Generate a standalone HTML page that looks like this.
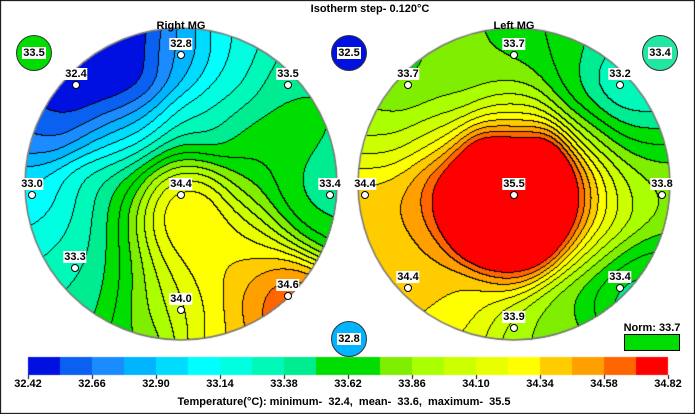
<!DOCTYPE html><html><head><meta charset="utf-8"><style>
body{margin:0;background:#fff}
#w{position:relative;width:695px;height:414px;overflow:hidden;font-family:"Liberation Sans",sans-serif;font-weight:bold;font-size:11px;color:#000}
canvas{position:absolute;left:0;top:0}
.t{position:absolute;white-space:nowrap;transform:translateX(-50%)}
.lb{position:absolute;transform:translateX(-50%);background:#fff;padding:0 1px;line-height:12px;font-size:11px}
.mk{position:absolute;width:6px;height:6px;border:1.5px solid #000;border-radius:50%;background:#fff;transform:translate(-50%,-50%)}
.bd{position:absolute;border:1px solid #333;border-radius:50%;display:flex;align-items:center;justify-content:center}
.bd span{background:#fff;padding:0 1px;line-height:12px}
</style></head><body><div id="w">
<canvas id="c" width="695" height="414"></canvas>
<div class="t" style="left:370px;top:3px">Isotherm step- 0.120°C</div>
<div class="t" style="left:181px;top:20px">Right MG</div>
<div class="t" style="left:514px;top:20px">Left MG</div>
<div class="bd" style="left:16px;top:35px;width:34px;height:34px;background:#00dd00"><span>33.5</span></div>
<div class="bd" style="left:331px;top:35px;width:34px;height:34px;background:#0010e0"><span>32.5</span></div>
<div class="bd" style="left:642px;top:35px;width:34px;height:34px;background:#20e8a0"><span>33.4</span></div>
<div class="bd" style="left:331px;top:321px;width:34px;height:34px;background:#00b4ff"><span>32.8</span></div>
<div class="t" style="left:652px;top:322px">Norm: 33.7</div>
<div style="position:absolute;left:624px;top:334px;width:54px;height:15px;background:#00dd00;border:1px solid #000"></div>
<div id="lab"></div>
<div class="t" style="left:344px;top:396px">Temperature(°C): minimum-&nbsp; 32.4,&nbsp; mean-&nbsp; 33.6,&nbsp; maximum-&nbsp; 35.5</div>
</div>
<script>
const cols=["#0010e0","#0a60f0","#1a8cff","#00b4ff","#00dcff","#00ffff","#00ffe0","#00f8b8","#00ec90","#00dd00","#00dd00","#80ee00","#aaff00","#ccff00","#e8ff00","#ffff00","#ffcc00","#ffa000","#ff6600","#ff0000"];
const c=document.getElementById('c'),g=c.getContext('2d');
const L=[[181,55,32.8,1],[76,85,32.4,1],[288,85,33.5,1],[32,195,33.0,1],[181,195,34.4,1],[330,195,33.4,1],[75,268,33.3,1],[288,296,34.6,1],[181,310,34.0,1],
[120,40,32.45],[240,40,33.15],[120,85,32.45],[90,60,32.4],[60,100,32.45],[230,85,33.2],[290,50,33.4],
[40,130,32.7],[100,130,32.8],[150,130,32.95],[200,130,33.2],[250,130,33.55],[310,130,33.55],[335,130,33.45],
[80,195,33.2],[110,195,33.5],[140,195,33.9],[240,195,33.9],[290,195,33.6],[185,210,34.45],[180,225,34.42],
[40,240,33.2],[90,240,33.3],[130,240,33.7],[170,240,34.3],[200,240,34.3],[230,240,34.3],[270,240,34.0],[320,240,33.7],
[120,268,33.55],[160,268,34.0],[200,268,34.3],[240,268,34.4],[270,275,34.45],
[250,296,34.45],[200,296,34.3],[150,296,33.9],[100,296,33.5],[60,296,33.4],[320,296,34.5],[285,302,34.8],[295,300,34.8],[290,305,34.85],
[140,330,33.7],[220,330,34.3],[260,330,34.45],[181,160,33.8],[120,160,33.2],[250,160,33.6],[340,230,33.5],[300,150,33.6],[320,180,33.4],[320,210,33.45],[335,170,33.4]];
const R=[[514,55,33.7,1],[408,85,33.7,1],[620,85,33.2,1],[365,195,34.4,1],[514,195,35.5,1],[662,195,33.8,1],[408,288,34.4,1],[620,288,33.4,1],[514,328,33.9,1],
[470,40,33.75],[560,40,33.6],[600,40,33.45],[460,85,33.8],[514,90,33.8],[570,85,33.55],[655,85,33.3],[625,95,33.15],
[380,125,33.85],[440,125,33.95],[514,120,34.1],[590,125,33.75],[640,125,33.5],
[480,195,35.5],[545,195,35.5],[514,160,35.5],[514,230,35.5],[485,165,35.4],[545,165,35.4],[485,228,35.4],[545,228,35.4],[455,195,35.0],[565,195,34.95],
[425,195,34.55],[590,195,34.35],[514,125,34.4],[514,266,34.5],
[612,195,34.1],[635,195,33.9],[395,200,34.45],[390,240,34.42],[440,290,34.4],[470,300,34.25],[560,310,33.8],[590,290,33.6],[650,260,33.6],[640,150,33.7],[380,155,34.1],[440,150,34.3],[590,150,34.0],[580,255,34.2],[450,330,34.2],[560,330,33.8],[430,250,34.45],[600,240,34.0],[625,290,33.35],[375,240,34.4]];
function mk(P,s){const k=1/(2*s*s);return (x,y)=>{let S=0,ws=1e-12;for(const p of P){const w=Math.exp(-((x-p[0])**2+(y-p[1])**2)*k);S+=w*p[2];ws+=w;}return S/ws;}}
function cls(v){return Math.max(0,Math.min(19,Math.floor((v-32.42)/0.12)));}
const rgb=cols.map(h=>[parseInt(h.substr(1,2),16),parseInt(h.substr(3,2),16),parseInt(h.substr(5,2),16)]);
const img=g.createImageData(695,414);for(let i=0;i<img.data.length;i++)img.data[i]=255;
function draw(P,cx,cy,r){const f=mk(P,26);const W=2*r+2,H=2*r+2,K=new Int8Array(W*H).fill(-1);
for(let y=0;y<H;y++)for(let x=0;x<W;x++){const X=cx-r-1+x,Y=cy-r-1+y;if((X-cx)**2+(Y-cy)**2<=r*r)K[y*W+x]=cls(f(X,Y));}
for(let y=0;y<H;y++)for(let x=0;x<W;x++){const k=K[y*W+x];if(k<0)continue;let col=rgb[k];
if((x>0&&K[y*W+x-1]>=0&&K[y*W+x-1]!=k)||(y>0&&K[(y-1)*W+x]>=0&&K[(y-1)*W+x]!=k))col=[0,0,0];
const X=cx-r-1+x,Y=cy-r-1+y,o=(Y*695+X)*4;img.data[o]=col[0];img.data[o+1]=col[1];img.data[o+2]=col[2];}}
draw(L,181,184,156);draw(R,514,184,156);
for(let k=0;k<20;k++){const x0=28+k*32;for(let y=357;y<375;y++)for(let x=x0;x<x0+32;x++){const o=(y*695+x)*4;img.data[o]=rgb[k][0];img.data[o+1]=rgb[k][1];img.data[o+2]=rgb[k][2];}}
g.putImageData(img,0,0);
g.strokeStyle="#777";g.lineWidth=1.5;[[181,184],[514,184]].forEach(p=>{g.beginPath();g.arc(p[0],p[1],156,0,7);g.stroke();});
g.strokeStyle="#000";g.lineWidth=1;g.strokeRect(0.5,0.5,694,413);
g.beginPath();for(let k=0;k<=10;k++){const x=28+k*64+0.5;g.moveTo(x,375);g.lineTo(x,379);}g.stroke();
let h="";[...L,...R].filter(p=>p[3]).forEach(p=>{h+=`<div class="mk" style="left:${p[0]}px;top:${p[1]}px"></div><div class="lb" style="left:${p[0]}px;top:${p[1]-17}px">${p[2].toFixed(1)}</div>`;});
for(let k=0;k<=10;k++)h+=`<div class="t" style="left:${28+k*64}px;top:378px">${(32.42+k*0.24).toFixed(2)}</div>`;
document.getElementById('lab').innerHTML=h;
</script></body></html>
